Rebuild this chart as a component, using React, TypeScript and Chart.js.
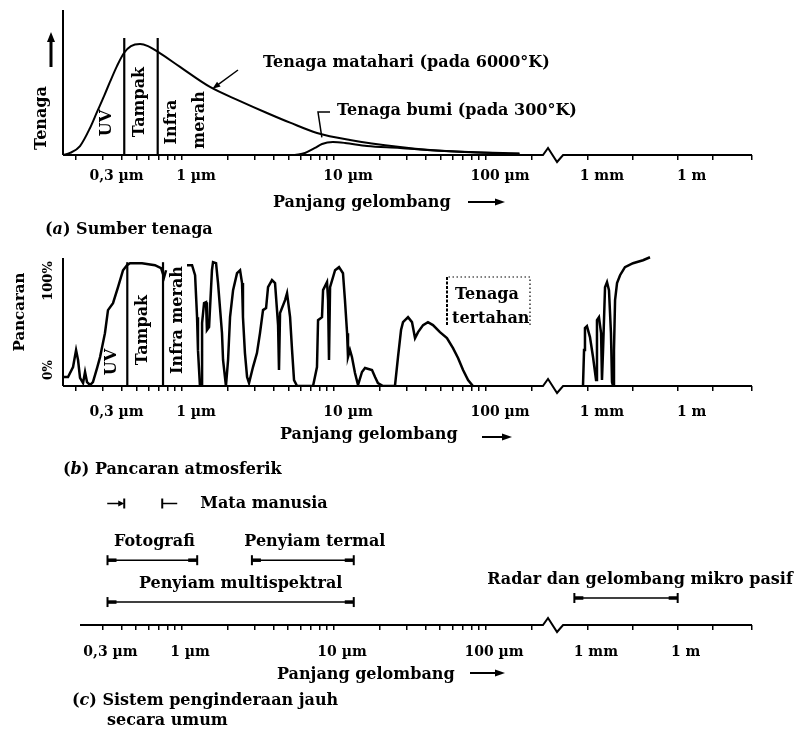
import React, { useEffect, useRef } from "react";
import { Chart, registerables } from "chart.js";

Chart.register(...registerables);

const HURUF = '"DejaVu Serif", "Liberation Serif", serif';

// ================= DATA =================
// Sumbu x: log10(panjang gelombang / µm), sumbu dipatahkan setelah ~300 µm
const TICK_UM = [
  0.2, 0.3, 0.4, 0.5, 0.6, 0.7, 0.8, 0.9, 1, 2, 3, 4, 5, 6, 7, 8, 9, 10, 20, 30, 40, 50, 60, 70, 80, 90, 100, 200,
  1000, 32000, 1000000, 15000000, 300000000,
];
const LABEL_UM = [0.3, 1, 10, 100, 1000, 1000000];
const LABEL_TEKS = ["0,3 µm", "1 µm", "10 µm", "100 µm", "1 mm", "1 m"];

// (a) Sumber tenaga
const MATAHARI_X = [-0.783, -0.737, -0.671, -0.605, -0.559, -0.513, -0.474, -0.428, -0.382, -0.336, -0.276, -0.224, -0.158, -0.013, 0.184, 0.382, 0.559, 0.711, 0.888, 1.105, 1.434, 1.632, 1.895, 2.22];
const MATAHARI_Y = [0, 1.4, 6.1, 18.4, 29.3, 40.1, 49.7, 60.5, 69.4, 74.1, 75.5, 74.1, 70.1, 59.9, 46.3, 36.7, 28.6, 22.0, 15, 10.2, 5.4, 3.4, 2, 1];
const BUMI_X = [0.743, 0.809, 0.875, 0.921, 0.993, 1.072, 1.217, 1.434, 1.632, 1.895, 2.22];
const BUMI_Y = [0, 1.4, 4.8, 7.5, 8.8, 8.2, 6.1, 4.8, 3.2, 1.8, 0.8];
const BATAS_A_X = [-0.38, -0.16];
const BATAS_A_TINGGI = 79.6;

// (b) Pancaran atmosferik (%)
const PANCARAN1_X = [-0.783, -0.75, -0.717, -0.697, -0.684, -0.671, -0.651, -0.638, -0.625, -0.605, -0.586, -0.559, -0.539, -0.507, -0.487, -0.454, -0.421, -0.388, -0.362, -0.342, -0.263, -0.178, -0.138, -0.118, -0.105];
const PANCARAN1_Y = [7.3, 7.3, 15.3, 29.0, 21.0, 6.5, 2.4, 11.3, 3.2, 0.8, 3.2, 14.5, 23.4, 42.7, 61.3, 66.9, 79.8, 93.5, 97.6, 99.2, 99.2, 97.6, 95.2, 87.9, 93.5];
const PANCARAN2_X = [
  0.033, 0.066, 0.086, 0.099, 0.105, 0.118, 0.132, 0.132, 0.145, 0.158,
  0.164, 0.178, 0.197, 0.204, 0.224, 0.237, 0.263, 0.27, 0.289, 0.303,
  0.316, 0.336, 0.362, 0.382, 0.395, 0.401, 0.414, 0.428, 0.441, 0.467,
  0.493, 0.513, 0.533, 0.553, 0.566, 0.592, 0.612, 0.625, 0.632, 0.638,
  0.645, 0.678, 0.691, 0.711, 0.724, 0.737, 0.757, 0.862, 0.888, 0.895,
  0.921, 0.928, 0.954, 0.961, 0.967, 0.974, 1.007, 1.033, 1.059, 1.072,
  1.086, 1.092, 1.105, 1.118, 1.138, 1.158, 1.184, 1.204, 1.25, 1.27,
  1.289, 1.322, 1.401, 1.421, 1.441, 1.454, 1.487, 1.513, 1.533, 1.553,
  1.586, 1.618, 1.651, 1.697, 1.743, 1.783, 1.816, 1.849, 1.882, 1.914,
];
const PANCARAN2_Y = [
  97.6, 97.6, 89.5, 55.6, 29.0, 0, 0, 50.8, 66.9, 67.7,
  45.2, 47.6, 93.5, 100, 99.2, 83.1, 42.7, 21.0, 0, 21.0,
  55.6, 77.4, 91.1, 93.5, 83.1, 55.6, 26.6, 7.3, 2.4, 15.3,
  26.6, 42.7, 61.3, 62.9, 79.8, 85.5, 83.1, 61.3, 49.2, 12.9,
  58.9, 69.4, 75.0, 55.6, 29.0, 4.8, 0, 0, 15.3, 53.2,
  55.6, 77.4, 83.9, 69.4, 21.0, 79.8, 93.5, 96.0, 91.1, 69.4,
  42.7, 23.4, 29.0, 23.4, 10.5, 0.8, 11.3, 14.5, 12.9, 7.3,
  2.4, 0, 0, 23.4, 45.2, 51.6, 55.6, 51.6, 38.7, 43.5,
  49.2, 51.6, 49.2, 43.5, 38.7, 30.6, 22.6, 12.9, 4.8, 0,
];
const PANCARAN3_X = [2.838, 2.873, 2.904, 2.97, 3.071, 3.173, 3.274, 3.305, 3.371, 3.442, 3.472, 3.508, 3.574, 3.64, 3.706, 3.772, 3.807, 3.843, 3.873, 3.909, 3.975, 4.076, 4.239, 4.508, 4.843, 5.076];
const PANCARAN3_Y = [0, 29.0, 46.8, 48.4, 39.5, 23.4, 4.8, 53.2, 55.6, 42.7, 4.8, 29.0, 79.8, 83.9, 77.4, 42.7, 3.2, 0, 29.0, 69.4, 83.1, 89.5, 96.0, 99.2, 101.6, 104.0];
const BATAS_B_X = [-0.36, -0.125];
const BATAS_B_TINGGI = 100;

// (c) Sistem penginderaan jauh
const RENTANG_NAMA = ["Fotografi", "Penyiam termal", "Penyiam multispektral", "Radar dan gelombang mikro pasif"];
const RENTANG_AWAL = [-0.49, 0.46, -0.49, 2.55];
const RENTANG_AKHIR = [0.1, 1.13, 1.13, 6.0];
const RENTANG_BARIS = [2.4, 2.4, 0.85, 1.0];
const MATA_MANUSIA = [-0.38, -0.13];
const MATA_BARIS = 4.5;

// ================= HELPERS =================
const PUTUS_SUMBU = [2.375, 2.507];
const posisi = (l: number) => (l <= 2.5 ? l : 2.67 + 0.197 * (l - 3));
const lg = (u: number) => Math.log10(u);
const titik = (xs: number[], ys: number[]) => xs.map((x, i) => ({ x: posisi(x), y: ys[i] }));

function skalaX(min: number, tinggi: number, pad: number, geser: number) {
  const max = 3.75;
  return {
    type: "linear",
    min,
    max,
    afterBuildTicks: (s: any) => {
      s.ticks = TICK_UM.map((u) => ({ value: posisi(lg(u)) })).filter(
        (t) => t.value >= min - 1e-9 && t.value <= max + 1e-9
      );
    },
    afterFit: (s: any) => {
      s.height = tinggi;
    },
    ticks: {
      autoSkip: false,
      maxRotation: 0,
      minRotation: 0,
      padding: pad,
      labelOffset: geser,
      color: "#000",
      font: { family: HURUF, size: 14, weight: "bold" },
      callback: (v: number) => {
        const i = LABEL_UM.findIndex((u) => Math.abs(posisi(lg(u)) - v) < 1e-6);
        return i >= 0 ? LABEL_TEKS[i] : "";
      },
    },
    grid: { drawOnChartArea: false, drawTicks: true, tickLength: 5, color: "#000", lineWidth: 1.5 },
    border: { display: false },
  };
}

function garis(c: CanvasRenderingContext2D, x1: number, y1: number, x2: number, y2: number, w = 2) {
  c.lineWidth = w;
  c.beginPath();
  c.moveTo(x1, y1);
  c.lineTo(x2, y2);
  c.stroke();
}
function kepala(c: CanvasRenderingContext2D, x: number, y: number, ang: number, len = 9, half = 3.5) {
  const cs = Math.cos(ang), sn = Math.sin(ang);
  c.beginPath();
  c.moveTo(x, y);
  c.lineTo(x - len * cs + half * sn, y - len * sn - half * cs);
  c.lineTo(x - len * cs - half * sn, y - len * sn + half * cs);
  c.closePath();
  c.fill();
}
function panah(c: CanvasRenderingContext2D, x1: number, y1: number, x2: number, y2: number, w = 2, len = 9, half = 3.5) {
  const ang = Math.atan2(y2 - y1, x2 - x1);
  garis(c, x1, y1, x2 - (len - 1) * Math.cos(ang), y2 - (len - 1) * Math.sin(ang), w);
  kepala(c, x2, y2, ang, len, half);
}
function tulis(c: CanvasRenderingContext2D, s: string, x: number, y: number, o: any = {}) {
  const size = o.size ?? 16;
  c.save();
  c.translate(x, y);
  if (o.rot) c.rotate(o.rot);
  c.font = `${o.italic ? "italic " : ""}bold ${size}px ${HURUF}`;
  c.textAlign = o.align ?? "left";
  c.textBaseline = o.base ?? "alphabetic";
  c.fillText(s, 0, 0);
  c.restore();
}
function tulisTegak(c: CanvasRenderingContext2D, s: string, x: number, y: number, size = 16) {
  tulis(c, s, x, y, { rot: -Math.PI / 2, align: "center", base: "middle", size });
}
function tulisCampur(c: CanvasRenderingContext2D, parts: [string, boolean][], x: number, y: number, size = 16) {
  let cx = x;
  c.textAlign = "left";
  c.textBaseline = "alphabetic";
  for (const [s, it] of parts) {
    c.font = `${it ? "italic " : ""}bold ${size}px ${HURUF}`;
    c.fillText(s, cx, y);
    cx += c.measureText(s).width;
  }
}
function sumbuX(chart: any) {
  const c: CanvasRenderingContext2D = chart.ctx;
  const { left, right, bottom } = chart.chartArea;
  const sx = chart.scales.x;
  const b1 = sx.getPixelForValue(PUTUS_SUMBU[0]);
  const b2 = sx.getPixelForValue(PUTUS_SUMBU[1]);
  const w = b2 - b1;
  c.lineWidth = 2;
  c.lineJoin = "miter";
  c.beginPath();
  c.moveTo(left, bottom);
  c.lineTo(b1, bottom);
  c.lineTo(b1 + w * 0.25, bottom - 7);
  c.lineTo(b1 + w * 0.7, bottom + 7);
  c.lineTo(b2, bottom);
  c.lineTo(right, bottom);
  c.stroke();
}
function judulSumbu(c: CanvasRenderingContext2D, x: number, y: number, ax1: number, ax2: number, ay: number) {
  tulis(c, "Panjang gelombang", x, y);
  panah(c, ax1, ay, ax2, ay, 2, 10, 3.5);
}

const garisHitam = { borderColor: "#000", borderWidth: 2, pointRadius: 0, fill: false, tension: 0 };

function konfigurasi(datasets: any[], pad: any, sx: any, yMin: number, yMax: number, plugin: any) {
  return {
    type: "line",
    data: { datasets },
    options: {
      responsive: false,
      animation: false,
      events: [],
      parsing: true,
      layout: { padding: pad },
      plugins: { legend: { display: false }, tooltip: { enabled: false } },
      scales: { x: sx, y: { display: false, min: yMin, max: yMax } },
    },
    plugins: [plugin],
  } as any;
}

// ================= PANEL (a) =================
function panelA() {
  const datasets: any[] = [
    { ...garisHitam, data: titik(MATAHARI_X, MATAHARI_Y), cubicInterpolationMode: "monotone" },
    { ...garisHitam, data: titik(BUMI_X, BUMI_Y), cubicInterpolationMode: "monotone" },
    ...BATAS_A_X.map((b) => ({ ...garisHitam, borderWidth: 2.2, data: titik([b, b], [0, BATAS_A_TINGGI]) })),
  ];
  const plugin = {
    id: "hiasanA",
    afterDraw(chart: any) {
      const c: CanvasRenderingContext2D = chart.ctx;
      const { left, top, bottom } = chart.chartArea;
      const sx = chart.scales.x, sy = chart.scales.y;
      c.save();
      c.strokeStyle = "#000";
      c.fillStyle = "#000";
      garis(c, left, top + 2, left, bottom, 2);
      sumbuX(chart);
      // sumbu tegak: Tenaga ↑
      garis(c, 51, 67, 51, 40, 3);
      kepala(c, 51, 32, -Math.PI / 2, 10, 4);
      tulisTegak(c, "Tenaga", 42, 118);
      // daerah spektrum
      tulisTegak(c, "UV", 107, 123);
      tulisTegak(c, "Tampak", 140, 102);
      tulisTegak(c, "Infra", 172, 122);
      tulisTegak(c, "merah", 200, 120);
      // keterangan kurva
      tulis(c, "Tenaga matahari (pada 6000°K)", 263, 67);
      panah(c, 238, 70, sx.getPixelForValue(0.2), sy.getPixelForValue(45), 1.5, 8, 3);
      tulis(c, "Tenaga bumi (pada 300°K)", 337, 115);
      c.lineWidth = 1.5;
      c.beginPath();
      c.moveTo(330, 112);
      c.lineTo(318, 112);
      c.lineTo(sx.getPixelForValue(0.92), sy.getPixelForValue(12));
      c.stroke();
      judulSumbu(c, 273, 207, 468, 505, 202);
      tulisCampur(c, [["(", false], ["a", true], [") Sumber tenaga", false]], 45, 234);
      c.restore();
    },
  };
  return konfigurasi(datasets, { left: 63, right: 45, top: 8, bottom: 0 }, skalaX(-0.783, 90, 8, 14), 0, 100, plugin);
}

// ================= PANEL (b) =================
function panelB() {
  const datasets: any[] = [
    { ...garisHitam, borderWidth: 2.5, data: titik(PANCARAN1_X, PANCARAN1_Y) },
    { ...garisHitam, borderWidth: 2.5, data: titik(PANCARAN2_X, PANCARAN2_Y) },
    { ...garisHitam, borderWidth: 2.5, data: titik(PANCARAN3_X, PANCARAN3_Y) },
    ...BATAS_B_X.map((b) => ({ ...garisHitam, borderWidth: 2.2, data: titik([b, b], [0, BATAS_B_TINGGI]) })),
  ];
  const plugin = {
    id: "hiasanB",
    afterDraw(chart: any) {
      const c: CanvasRenderingContext2D = chart.ctx;
      const { left, top, bottom } = chart.chartArea;
      c.save();
      c.strokeStyle = "#000";
      c.fillStyle = "#000";
      garis(c, left, top + 2, left, bottom, 2);
      sumbuX(chart);
      tulisTegak(c, "Pancaran", 20, 67, 15);
      tulisTegak(c, "100%", 49, 36, 13);
      tulisTegak(c, "0%", 49, 125, 12);
      tulisTegak(c, "UV", 112, 117);
      tulisTegak(c, "Tampak", 143, 85);
      tulisTegak(c, "Infra merah", 178, 75);
      // kotak Tenaga tertahan
      c.lineWidth = 1.2;
      c.setLineDash([1.5, 2.5]);
      c.beginPath();
      c.moveTo(530, 80);
      c.lineTo(530, 32);
      c.lineTo(447, 32);
      c.stroke();
      c.lineWidth = 2;
      c.setLineDash([3, 1.5]);
      garis(c, 447, 32, 447, 80, 2);
      c.setLineDash([]);
      tulis(c, "Tenaga", 455, 54);
      tulis(c, "tertahan", 452, 78);
      judulSumbu(c, 280, 194, 482, 512, 192);
      tulisCampur(c, [["(", false], ["b", true], [") Pancaran atmosferik", false]], 63, 229);
      c.restore();
    },
  };
  return konfigurasi(datasets, { left: 63, right: 45, top: 11, bottom: 0 }, skalaX(-0.783, 94, 13, 14), 0, 105, plugin);
}

// ================= PANEL (c) =================
function panelC() {
  const datasets: any[] = RENTANG_NAMA.map((_, i) => ({
    borderColor: "#000",
    borderWidth: 1.5,
    fill: false,
    pointStyle: "line",
    rotation: 90,
    pointRadius: 5,
    pointBorderWidth: 2,
    pointBorderColor: "#000",
    data: titik([RENTANG_AWAL[i], RENTANG_AKHIR[i]], [RENTANG_BARIS[i], RENTANG_BARIS[i]]),
  }));
  const GESER_LABEL = [2, 12, 10, 14];
  const plugin = {
    id: "hiasanC",
    afterDraw(chart: any) {
      const c: CanvasRenderingContext2D = chart.ctx;
      const sx = chart.scales.x, sy = chart.scales.y;
      c.save();
      c.strokeStyle = "#000";
      c.fillStyle = "#000";
      sumbuX(chart);
      // Mata manusia
      const ym = sy.getPixelForValue(MATA_BARIS);
      const xa = sx.getPixelForValue(posisi(MATA_MANUSIA[0]));
      const xb = sx.getPixelForValue(posisi(MATA_MANUSIA[1]));
      garis(c, xa - 17, ym, xa - 4, ym, 1.5);
      kepala(c, xa, ym, 0, 6, 3);
      garis(c, xa, ym - 5, xa, ym + 5, 2);
      garis(c, xb, ym - 5, xb, ym + 5, 2);
      garis(c, xb, ym, xb + 15, ym, 1.5);
      tulis(c, "Mata manusia", xb + 38, ym + 4);
      // rentang
      RENTANG_NAMA.forEach((nama, i) => {
        const x1 = sx.getPixelForValue(posisi(RENTANG_AWAL[i]));
        const x2 = sx.getPixelForValue(posisi(RENTANG_AKHIR[i]));
        const y = sy.getPixelForValue(RENTANG_BARIS[i]);
        garis(c, x1, y, x1 + 9, y, 3.5);
        garis(c, x2 - 9, y, x2, y, 3.5);
        tulis(c, nama, (x1 + x2) / 2 + GESER_LABEL[i], y - 14, { align: "center" });
      });
      judulSumbu(c, 277, 199, 470, 505, 193);
      tulisCampur(c, [["(", false], ["c", true], [") Sistem penginderaan jauh", false]], 72, 225);
      tulis(c, "secara umum", 107, 245);
      c.restore();
    },
  };
  return konfigurasi(datasets, { left: 80, right: 45, top: 10, bottom: 0 }, skalaX(-0.671, 110, 14, 8), 0, 5, plugin);
}

export default function App() {
  const refA = useRef<HTMLCanvasElement>(null);
  const refB = useRef<HTMLCanvasElement>(null);
  const refC = useRef<HTMLCanvasElement>(null);
  useEffect(() => {
    const charts = [
      new Chart(refA.current as HTMLCanvasElement, panelA()),
      new Chart(refB.current as HTMLCanvasElement, panelB()),
      new Chart(refC.current as HTMLCanvasElement, panelC()),
    ];
    return () => charts.forEach((ch) => ch.destroy());
  }, []);
  return (
    <div style={{ position: "absolute", left: 0, top: 0, width: 797, height: 735, background: "#fff", overflow: "hidden" }}>
      <canvas ref={refA} width={797} height={245} style={{ position: "absolute", left: 0, top: 0 }} />
      <canvas ref={refB} width={797} height={235} style={{ position: "absolute", left: 0, top: 245 }} />
      <canvas ref={refC} width={797} height={255} style={{ position: "absolute", left: 0, top: 480 }} />
    </div>
  );
}
